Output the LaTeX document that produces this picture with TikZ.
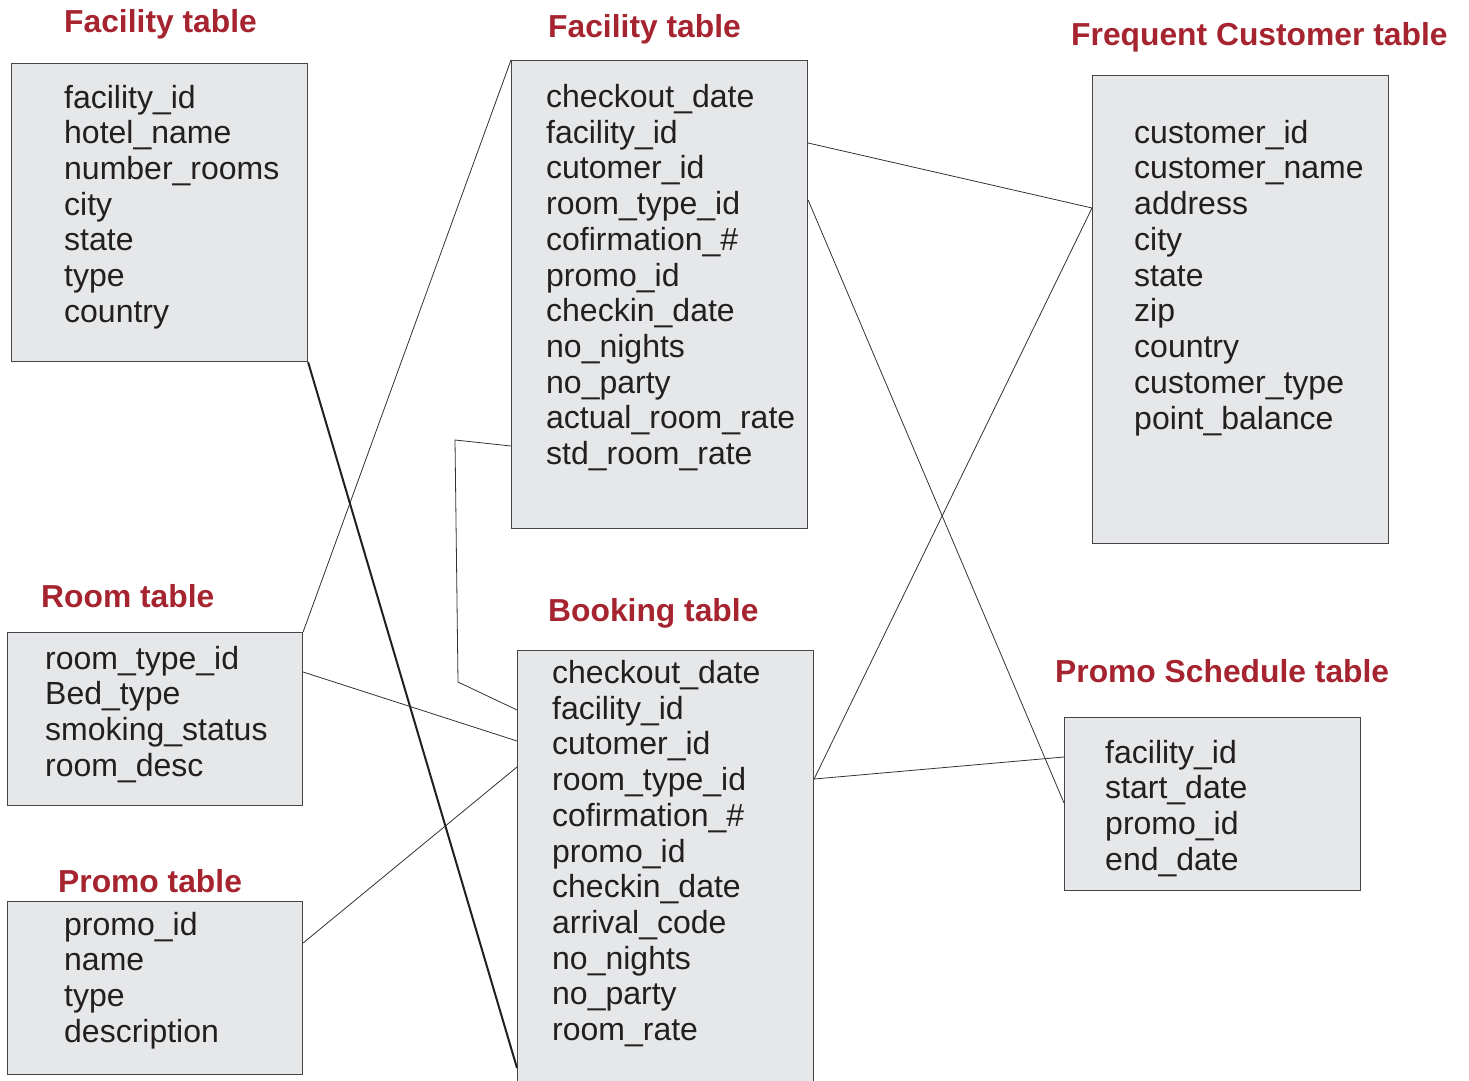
\documentclass[tikz,border=0pt]{standalone}
\usepackage{fontspec}
\setmainfont{Liberation Sans}
\definecolor{ttl}{RGB}{166,36,47}
\definecolor{boxfill}{RGB}{230,231,233}
\definecolor{boxline}{RGB}{70,70,72}
\definecolor{txt}{RGB}{35,31,32}
\definecolor{lnk}{RGB}{50,50,52}
\begin{document}
\begin{tikzpicture}[x=1pt,y=-1pt,
  tbl/.style={draw=boxline, fill=boxfill, line width=1.1pt, inner sep=0pt, anchor=north west},
  fld/.style={anchor=base west, inner sep=0pt, text=txt, font=\fontsize{32}{36}\selectfont},
  ttlsty/.style={anchor=base west, inner sep=0pt, text=ttl, font=\fontsize{31.8}{36}\selectfont\bfseries},
  conn/.style={draw=lnk, line width=0.8pt},
  heavyconn/.style={draw=txt, line width=2pt}]
\useasboundingbox (0,0) rectangle (1469,1081);

% boxes
\node[tbl, minimum width=296pt, minimum height=298pt] (f1) at (11,63) {};
\node[tbl, minimum width=296pt, minimum height=468pt] (f2) at (511,60) {};
\node[tbl, minimum width=296pt, minimum height=468pt] (fc) at (1092,75) {};
\node[tbl, minimum width=295pt, minimum height=173pt] (room) at (7,632) {};
\node[tbl, minimum width=295pt, minimum height=173pt] (promo) at (7,901) {};
\node[tbl, minimum width=296pt, minimum height=445pt] (book) at (517,650) {};
\node[tbl, minimum width=296pt, minimum height=173pt] (ps) at (1064,717) {};

% titles
\node[ttlsty] (t1) at (64,32.5) {Facility table};
\node[ttlsty] (t2) at (548,37.5) {Facility table};
\node[ttlsty] (t3) at (1071,45.5) {Frequent Customer table};
\node[ttlsty] (t4) at (41,607.5) {Room table};
\node[ttlsty] (t5) at (548,621.5) {Booking table};
\node[ttlsty] (t6) at (58,892.5) {Promo table};
\node[ttlsty] (t7) at (1055,682.5) {Promo Schedule table};

% fields
\foreach \t [count=\i from 0] in {facility\_id, hotel\_name, number\_rooms, city, state, type, country}
  \node[fld] (f1f\i) at (64,{108+\i*35.7}) {\t};
\foreach \t [count=\i from 0] in {checkout\_date, facility\_id, cutomer\_id, room\_type\_id, cofirmation\_\#, promo\_id, checkin\_date, no\_nights, no\_party, actual\_room\_rate, std\_room\_rate}
  \node[fld] (f2f\i) at (546,{107.5+\i*35.7}) {\t};
\foreach \t [count=\i from 0] in {customer\_id, customer\_name, address, city, state, zip, country, customer\_type, point\_balance}
  \node[fld] (fcf\i) at (1134,{143+\i*35.75}) {\t};
\foreach \t [count=\i from 0] in {room\_type\_id, Bed\_type, smoking\_status, room\_desc}
  \node[fld] (rf\i) at (45,{669+\i*35.7}) {\t};
\foreach \t [count=\i from 0] in {promo\_id, name, type, description}
  \node[fld] (pf\i) at (64,{935+\i*35.7}) {\t};
\foreach \t [count=\i from 0] in {checkout\_date, facility\_id, cutomer\_id, room\_type\_id, cofirmation\_\#, promo\_id, checkin\_date, arrival\_code, no\_nights, no\_party, room\_rate}
  \node[fld] (bf\i) at (552,{683.5+\i*35.7}) {\t};
\foreach \t [count=\i from 0] in {facility\_id, start\_date, promo\_id, end\_date}
  \node[fld] (psf\i) at (1105,{763+\i*35.7}) {\t};

% bend points
\coordinate (k1) at (455,440);
\coordinate (k2) at (458,682);

% connectors
\draw[conn] (room.north east) -- (f2.north west);
\draw[heavyconn] (f1.south east) -- ([yshift=-418pt]book.north west);
\draw[conn] ([yshift=-386pt]f2.north west) -- (k1) -- (k2) -- ([yshift=-60pt]book.north west);
\draw[conn] ([yshift=-40pt]room.north east) -- ([yshift=-91pt]book.north west);
\draw[conn] ([yshift=-42pt]promo.north east) -- ([yshift=-117pt]book.north west);
\draw[conn] ([yshift=-83pt]f2.north east) -- ([yshift=-133pt]fc.north west);
\draw[conn] ([yshift=-140pt]f2.north east) -- ([yshift=-86pt]ps.north west);
\draw[conn] ([yshift=-129pt]book.north east) -- ([yshift=-133pt]fc.north west);
\draw[conn] ([yshift=-129pt]book.north east) -- ([yshift=-40pt]ps.north west);
\end{tikzpicture}
\end{document}
